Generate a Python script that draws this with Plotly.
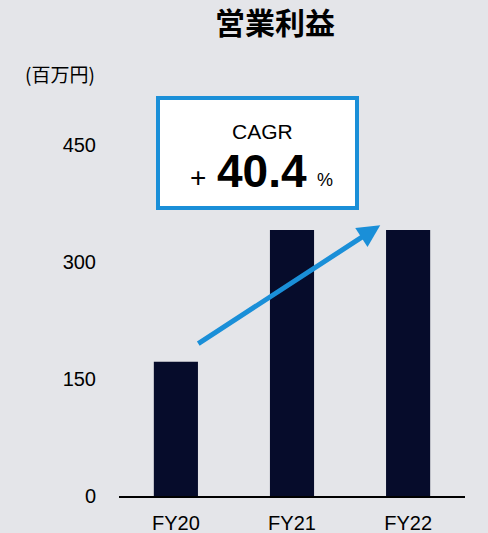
import plotly.graph_objects as go

categories = ["FY20", "FY21", "FY22"]
values = [172, 341, 341]
tick_vals = [0, 150, 300, 450]
tick_text = ["0", "150", "300", "450"]
title_text = "営業利益"
unit_text = "(百万円)"
cagr_label = "CAGR"
cagr_value = "40.4"

BG = "#e4e5e9"
BAR = "#060c2b"
BLUE = "#1a8fd8"
JP = "Noto Sans CJK JP"
LAT = "Liberation Sans, Arial"

fig = go.Figure()
fig.add_trace(go.Bar(x=categories, y=values, marker=dict(color=BAR, line=dict(width=0)), width=0.38))

W, H = 488, 533
L, R, T, B = 119, 23, 98, 37

fig.update_layout(
    width=W, height=H,
    margin=dict(l=L, r=R, t=T, b=B, autoexpand=False),
    paper_bgcolor=BG, plot_bgcolor=BG,
    showlegend=False,
    font=dict(family=LAT, color="#000000"),
    title=dict(text=title_text, font=dict(family=JP, size=30, color="#000000", weight="bold"),
               xref="container", x=275/W, xanchor="center", yref="container", y=1-23/H, yanchor="middle"),
)
fig.update_xaxes(range=[-0.49, 2.49], showline=True, linecolor="#000000", linewidth=2, automargin=False,
                 showgrid=False, zeroline=False, ticks="", tickfont=dict(size=20, family=LAT, color="#000000"),
                 ticklabelstandoff=8)
fig.update_yaxes(range=[0, 510], showline=False, showgrid=False, zeroline=False, automargin=False,
                 tickvals=tick_vals, ticktext=tick_text, ticks="",
                 tickfont=dict(size=20, family=LAT, color="#000000"), ticklabelstandoff=22)

pw, ph = W - L - R, H - T - B
def px(x):
    return (x - L) / pw
def py(y):
    return (H - B - y) / ph

# CAGR box
fig.add_shape(type="rect", xref="paper", yref="paper",
              x0=px(158), x1=px(357), y0=py(208), y1=py(98),
              line=dict(color=BLUE, width=4), fillcolor="#ffffff", layer="above")

fig.add_annotation(xref="paper", yref="paper", x=px(262), y=py(131), text=cagr_label, showarrow=False,
                   font=dict(family=LAT, size=21, color="#000000"), xanchor="center", yanchor="middle")
fig.add_annotation(xref="paper", yref="paper", x=px(262), y=py(171), text="<b>" + cagr_value + "</b>", showarrow=False,
                   font=dict(family=LAT, size=46, color="#000000"), xanchor="center", yanchor="middle")
fig.add_annotation(xref="paper", yref="paper", x=px(198), y=py(177), text="+", showarrow=False,
                   font=dict(family=LAT, size=28, color="#000000"), xanchor="center", yanchor="middle")
fig.add_annotation(xref="paper", yref="paper", x=px(325), y=py(180), text="%", showarrow=False,
                   font=dict(family=LAT, size=18, color="#000000"), xanchor="center", yanchor="middle")

# Arrow
fig.add_annotation(xref="x", yref="y", axref="x", ayref="y",
                   x=1.76, y=347, ax=0.18, ay=194, text="", showarrow=True,
                   arrowhead=2, arrowsize=0.9, arrowwidth=5, arrowcolor=BLUE, standoff=0, startstandoff=0)

# Unit label
fig.add_annotation(xref="paper", yref="paper", x=px(60.5), y=py(74), text=unit_text, showarrow=False,
                   font=dict(family=JP, size=19, color="#000000"), xanchor="center", yanchor="middle")

fig.write_html(
    "out.html",
    config={"displayModeBar": False},
    post_script=(
        "document.documentElement.style.margin='0';document.documentElement.style.padding='0';"
        "document.documentElement.style.overflow='hidden';document.documentElement.style.background='" + BG + "';"
        "document.body.style.margin='0';document.body.style.padding='0';document.body.style.overflow='hidden';"
    ),
)
